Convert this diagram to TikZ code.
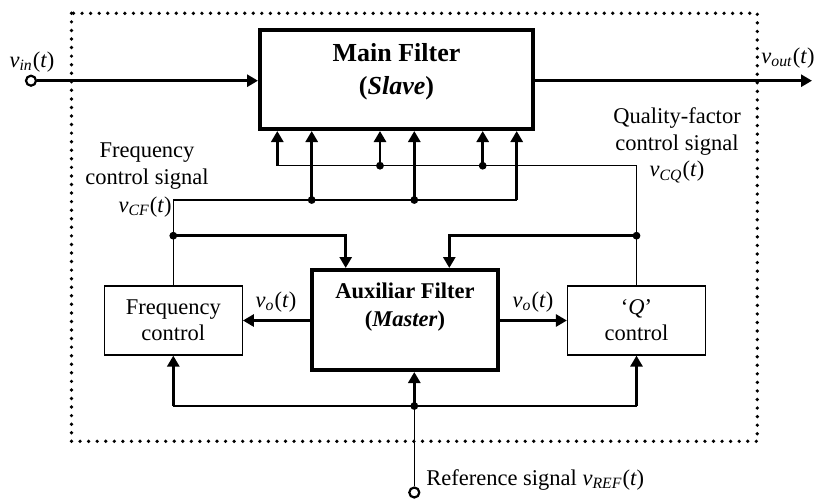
\documentclass[tikz,border=0pt]{standalone}
\usepackage{fontspec}
\setmainfont{Liberation Serif}
\usetikzlibrary{arrows.meta}
\newcommand\sigv[1]{\textit{v}\textsubscript{\textit{#1}}(\textit{t})}
\begin{document}
\begin{tikzpicture}[x=0.5pt,y=-0.5pt,
  every node/.style={font=\fontsize{11.25}{13.5}\selectfont, inner sep=0pt},
  >={Triangle[length=5.5pt,width=6pt]},
  mainbox/.style={draw,line width=2pt,minimum width=136.5pt,minimum height=49.5pt},
  masterbox/.style={draw,line width=2pt,minimum width=93pt,minimum height=50pt},
  ctrlbox/.style={draw,line width=0.6pt,minimum width=69pt,minimum height=34.5pt,align=center,font=\fontsize{11.25}{13}\selectfont},
  thickw/.style={line width=1.4pt},
  thinw/.style={line width=0.6pt},
  dotj/.style={circle,fill,minimum size=3.9pt,inner sep=0pt},
  port/.style={circle,draw,fill=white,line width=1.1pt,minimum size=5pt,inner sep=0pt},
  frame/.style={line width=1.85pt,dash pattern=on 0pt off 4.28pt,line cap=round}]
\useasboundingbox (0,0) rectangle (815,499);
% frame
\draw[frame] (71.5,13.3) rectangle (757.3,441.3);
% boxes
\node[mainbox] (main) at (396.5,79.5) {};
\node[align=center,font=\fontsize{13}{16.5}\selectfont\bfseries] (mainT) at (396.5,71.5) {Main Filter\\(\textit{Slave})};
\node[masterbox] (master) at (405,320) {};
\node[align=center,font=\fontsize{11.25}{14}\selectfont\bfseries] (masterT) at (405,307.5) {Auxiliar Filter\\(\textit{Master})};
\node[ctrlbox] (Fbox) at (173.3,320.5) {Frequency\\control};
\node[ctrlbox] (Qbox) at (636.5,320.5) {‘\textit{Q}’\\control};
% junctions
\coordinate (qR) at (636.5,165.7);
\coordinate (qL) at (277.3,165.7);
\node[dotj] (qd1) at (380,165.7) {};
\node[dotj] (qd2) at (482.7,165.7) {};
\coordinate (fL) at (173.3,200);
\coordinate (fR) at (516.7,200);
\node[dotj] (fd1) at (311.7,200) {};
\node[dotj] (fd2) at (414.3,200) {};
\node[dotj] (fj) at (173.3,235.7) {};
\node[dotj] (qj) at (636.5,235.7) {};
\coordinate (mF) at (345.7,235.7);
\coordinate (mQ) at (449.3,235.7);
\coordinate (bL) at (173.3,406);
\coordinate (bR) at (636.5,406);
\node[dotj] (bd) at (414.3,406) {};
\node[port] (ref) at (414.3,492.5) {};
\node[port] (vin) at (31,80.7) {};
\coordinate (vout) at (812,80.7);
% control wires
\draw[thinw] (Fbox.north) -- (fL) -- (fR);
\draw[thinw] (Qbox.north) -- (qR) -- (qL);
\draw[thickw,->] (qL) -- (qL |- main.south);
\draw[thickw,->] (qd1.center) -- (qd1 |- main.south);
\draw[thickw,->] (qd2.center) -- (qd2 |- main.south);
\draw[thickw,->] (fd1.center) -- (fd1 |- main.south);
\draw[thickw,->] (fd2.center) -- (fd2 |- main.south);
\draw[thickw,->] (fR) -- (fR |- main.south);
\draw[thickw,->] (fj.center) -- (mF) -- (mF |- master.north);
\draw[thickw,->] (qj.center) -- (mQ) -- (mQ |- master.north);
% master outputs
\draw[thickw,->] (Fbox.east -| master.west) -- (Fbox.east);
\draw[thickw,->] (Qbox.west -| master.east) -- (Qbox.west);
% reference
\draw[thinw] (bL) -- (bR);
\draw[thinw] (ref) -- (bd.center);
\draw[thickw,->] (bd.center) -- (bd |- master.south);
\draw[thickw,->] (bL) -- (Fbox.south);
\draw[thickw,->] (bR) -- (Qbox.south);
% in / out
\draw[thickw,->] (vin) -- (vin -| main.west);
\draw[thickw,->] (main.east |- vout) -- (vout);
% labels
\node (lvin) at (32,62) {\sigv{in}};
\node (lvout) at (788,58) {\sigv{out}};
\node[align=center] (lfcs) at (147,166.5) {Frequency\\control signal};
\node[anchor=east] (lvcf) at (172,207) {\sigv{CF}};
\node[align=center,font=\fontsize{11.25}{13.4}\selectfont] (lqcs) at (677,145) {Quality-factor\\control signal\\\sigv{CQ}};
\node (lvo1) at (276,301.7) {\textit{v}\textsubscript{\textit{o}}(\textit{t})};
\node (lvo2) at (533,301.7) {\textit{v}\textsubscript{\textit{o}}(\textit{t})};
\node[anchor=west] (lref) at (426,480) {Reference signal \sigv{REF}};
\end{tikzpicture}
\end{document}
